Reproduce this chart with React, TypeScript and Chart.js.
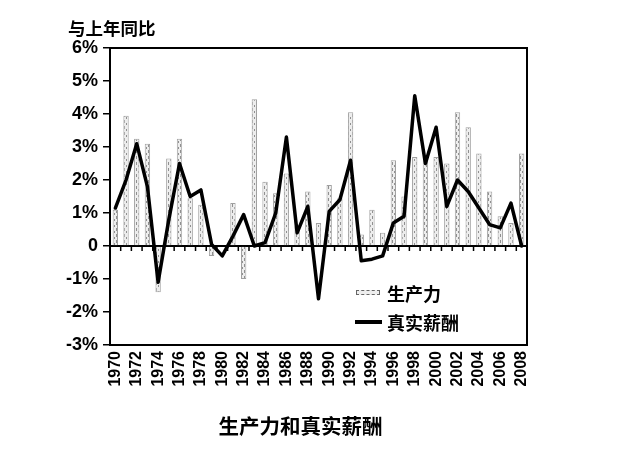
import React, { useEffect, useRef } from "react";
import { Chart, registerables } from "chart.js";

Chart.register(...registerables);

const years: string[] = [
  "1970","1971","1972","1973","1974","1975","1976","1977","1978","1979",
  "1980","1981","1982","1983","1984","1985","1986","1987","1988","1989",
  "1990","1991","1992","1993","1994","1995","1996","1997","1998","1999",
  "2000","2001","2002","2003","2004","2005","2006","2007","2008",
];

const productivity: number[] = [
  1.1, 3.95, 3.25, 3.1, -1.4, 2.65, 3.25, 1.45, 1.25, -0.3,
  0.0, 1.3, -1.0, 4.45, 1.95, 1.6, 2.2, 0.6, 1.65, 0.7,
  1.85, 1.45, 4.05, 0.35, 1.1, 0.4, 2.6, 1.5, 2.7, 2.6,
  2.7, 2.5, 4.05, 3.6, 2.8, 1.65, 0.9, 0.7, 2.8,
];

const realWages: number[] = [
  1.15, 2.0, 3.1, 1.8, -1.1, 0.8, 2.5, 1.5, 1.7, 0.05,
  -0.3, 0.3, 0.95, 0.0, 0.1, 1.0, 3.3, 0.4, 1.2, -1.6,
  1.05, 1.4, 2.6, -0.45, -0.4, -0.3, 0.7, 0.9, 4.55, 2.5,
  3.6, 1.2, 2.0, 1.65, 1.15, 0.65, 0.55, 1.3, 0.0,
];

const yMin = -3;
const yMax = 6;

const seriesNames = ["生产力", "真实薪酬"];
const yAxisTitle = "与上年同比";
const chartTitle = "生产力和真实薪酬";

function makePattern(): CanvasPattern | string {
  const c = document.createElement("canvas");
  c.width = 4;
  c.height = 6;
  const g = c.getContext("2d");
  if (!g) return "#e4e4e4";
  g.fillStyle = "#ededed";
  g.fillRect(0, 0, 4, 6);
  g.fillStyle = "#909090";
  g.fillRect(0, 0, 1, 3);
  g.fillRect(2, 3, 1, 2);
  const p = g.createPattern(c, "repeat");
  return p || "#e4e4e4";
}

const framePlugin = {
  id: "framePlugin",
  beforeDatasetsDraw(chart: any) {
    const { ctx, chartArea, scales } = chart;
    const y0 = scales.y.getPixelForValue(0);
    ctx.save();
    ctx.strokeStyle = "#000";
    ctx.lineWidth = 2;
    ctx.beginPath();
    ctx.moveTo(chartArea.left, y0);
    ctx.lineTo(chartArea.right, y0);
    ctx.stroke();
    ctx.lineWidth = 1.5;
    ctx.beginPath();
    for (let i = 1; i < years.length; i++) {
      const x = (scales.x.getPixelForValue(i - 1) + scales.x.getPixelForValue(i)) / 2;
      ctx.moveTo(x, y0);
      ctx.lineTo(x, y0 + 5);
    }
    ctx.stroke();
    ctx.restore();
  },
  afterDatasetsDraw(chart: any) {
    const { ctx, chartArea } = chart;
    ctx.save();
    ctx.strokeStyle = "#000";
    ctx.lineWidth = 2;
    ctx.strokeRect(
      chartArea.left,
      chartArea.top,
      chartArea.right - chartArea.left,
      chartArea.bottom - chartArea.top
    );
    ctx.restore();
  },
};

export default function App() {
  const canvasRef = useRef<HTMLCanvasElement | null>(null);

  useEffect(() => {
    if (!canvasRef.current) return;
    const chart = new Chart(canvasRef.current, {
      type: "bar",
      data: {
        labels: years,
        datasets: [
          {
            type: "line",
            label: seriesNames[1],
            data: realWages,
            borderColor: "#000",
            borderWidth: 3.5,
            pointRadius: 0,
            tension: 0,
            fill: false,
            order: 0,
            borderJoinStyle: "round",
            borderCapStyle: "round",
          } as any,
          {
            type: "bar",
            label: seriesNames[0],
            data: productivity,
            backgroundColor: makePattern(),
            borderColor: "#a0a0a0",
            borderWidth: 1,
            barPercentage: 0.5,
            categoryPercentage: 1,
            order: 1,
          } as any,
        ],
      },
      options: {
        responsive: true,
        maintainAspectRatio: false,
        animation: false,
        layout: { padding: { left: 0, top: 48, right: 115, bottom: 0 } },
        plugins: {
          legend: { display: false },
          tooltip: { enabled: false },
          title: { display: false },
        },
        scales: {
          x: {
            type: "category",
            grid: { display: false, drawTicks: false },
            border: { display: false },
            ticks: {
              autoSkip: false,
              minRotation: 90,
              maxRotation: 90,
              padding: 6,
              color: "#000",
              font: { family: "'Liberation Sans', Arial, sans-serif", weight: "bold", size: 16 },
              callback: (_v: any, i: number) => (i % 2 === 0 ? years[i] : ""),
            },
            afterFit: (scale: any) => {
              scale.height = 115;
            },
          },
          y: {
            min: yMin,
            max: yMax,
            grid: {
              drawOnChartArea: false,
              drawTicks: true,
              tickLength: 7,
              color: "#000",
              lineWidth: 1.5,
            },
            border: { display: false },
            ticks: {
              stepSize: 1,
              padding: 5,
              color: "#000",
              font: { family: "'Liberation Sans', Arial, sans-serif", weight: "bold", size: 18 },
              callback: (v: any) => (Number(v) === 0 ? "0" : `${v}%`),
            },
            afterFit: (scale: any) => {
              scale.width = 110;
            },
          },
        },
      },
      plugins: [framePlugin],
    });
    return () => chart.destroy();
  }, []);

  const cjk = "'Noto Sans CJK SC', 'Noto Sans', sans-serif";

  return (
    <div style={{ position: "fixed", left: 0, top: 0, width: 642, height: 460, background: "#fff" }}>
      <canvas ref={canvasRef} style={{ position: "absolute", left: 0, top: 0 }} />
      <div
        style={{
          position: "absolute",
          left: 68,
          top: 16,
          fontFamily: cjk,
          fontWeight: 700,
          fontSize: 17.5,
          lineHeight: "24px",
          color: "#000",
          whiteSpace: "nowrap",
        }}
      >
        {yAxisTitle}
      </div>
      <div
        style={{
          position: "absolute",
          left: 356,
          top: 290,
          width: 24,
          height: 5,
          border: "1px dashed #666",
          background: "#eee",
          boxSizing: "border-box",
        }}
      />
      <div
        style={{
          position: "absolute",
          left: 387,
          top: 281,
          fontFamily: cjk,
          fontWeight: 700,
          fontSize: 18,
          lineHeight: "24px",
          color: "#000",
          whiteSpace: "nowrap",
        }}
      >
        {seriesNames[0]}
      </div>
      <div
        style={{
          position: "absolute",
          left: 355,
          top: 320,
          width: 27,
          height: 4,
          background: "#000",
        }}
      />
      <div
        style={{
          position: "absolute",
          left: 387,
          top: 310,
          fontFamily: cjk,
          fontWeight: 700,
          fontSize: 18,
          lineHeight: "24px",
          color: "#000",
          whiteSpace: "nowrap",
        }}
      >
        {seriesNames[1]}
      </div>
      <div
        style={{
          position: "absolute",
          left: 0,
          width: 601,
          top: 411,
          textAlign: "center",
          fontFamily: cjk,
          fontWeight: 700,
          fontSize: 20.5,
          lineHeight: "28px",
          color: "#000",
          whiteSpace: "nowrap",
        }}
      >
        {chartTitle}
      </div>
    </div>
  );
}
